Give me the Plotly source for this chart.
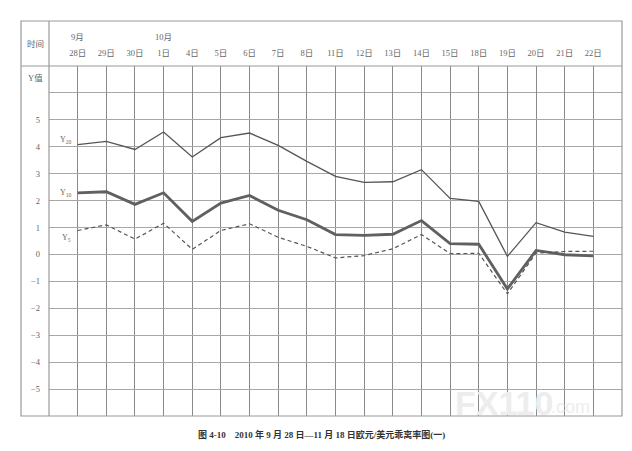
import plotly.graph_objects as go

# dates along the top of the table
months = ["9月", "", "", "10月", "", "", "", "", "", "", "", "", "", "", "", "", "", "", ""]
days = ["28日", "29日", "30日", "1日", "4日", "5日", "6日", "7日", "8日", "11日",
        "12日", "13日", "14日", "15日", "18日", "19日", "20日", "21日", "22日"]

# bias ratio values
y20 = [4.08, 4.20, 3.90, 4.55, 3.62, 4.34, 4.51, 4.05, 3.46, 2.90,
       2.68, 2.70, 3.15, 2.08, 1.97, -0.07, 1.18, 0.83, 0.67]
y10 = [2.29, 2.33, 1.86, 2.29, 1.23, 1.91, 2.19, 1.64, 1.29, 0.74,
       0.71, 0.75, 1.26, 0.40, 0.38, -1.28, 0.15, -0.01, -0.05]
y5 = [0.89, 1.10, 0.57, 1.16, 0.19, 0.89, 1.14, 0.64, 0.30, -0.13,
      -0.04, 0.21, 0.74, 0.03, 0.04, -1.46, 0.05, 0.11, 0.12]

y_ticks = list(range(-5, 6))
y_labels = [str(v).replace("-", "−") for v in y_ticks]

FONT = "Liberation Serif, Noto Sans CJK SC, serif"
GRID = "#9a9a9a"
LINE = "#555555"
TEXT = "#666666"

x = list(range(len(days)))

fig = go.Figure()
fig.add_trace(go.Scatter(x=x, y=y20, mode="lines", line=dict(color=LINE, width=1.3), name="Y20"))
fig.add_trace(go.Scatter(x=x, y=y10, mode="lines", line=dict(color="#606060", width=2.8), name="Y10"))
fig.add_trace(go.Scatter(x=x, y=y5, mode="lines", line=dict(color=LINE, width=1.2, dash="4px,3px"), name="Y5"))

# series labels at the left
for txt, yv in [("Y<sub>20</sub>", 4.24), ("Y<sub>10</sub>", 2.28), ("Y<sub>5</sub>", 0.62)]:
    fig.add_annotation(x=-0.4, y=yv, xref="x", yref="y", text=txt, showarrow=False,
                       xanchor="center", yanchor="middle",
                       font=dict(family=FONT, size=8, color=TEXT))

# month labels above the day labels
for i, m in enumerate(months):
    if m:
        fig.add_annotation(x=i, y=1.083, xref="x", yref="paper", text=m, showarrow=False,
                           xanchor="center", yanchor="middle",
                           font=dict(family=FONT, size=8.5, color=TEXT))

# left column headings
left = -28 / 573
fig.add_annotation(x=left / 2, y=1.063, xref="paper", yref="paper", text="时间", showarrow=False,
                   xanchor="center", yanchor="middle", font=dict(family=FONT, size=8.5, color=TEXT))
fig.add_annotation(x=left / 2, y=6.55, xref="paper", yref="y", text="Y值", showarrow=False,
                   xanchor="center", yanchor="middle", font=dict(family=FONT, size=8.5, color=TEXT))

# table frame
top = 1 + 45 / 350
fig.add_shape(type="rect", xref="paper", yref="paper", x0=left, x1=1, y0=0, y1=top,
              line=dict(color=GRID, width=1.2))
fig.add_shape(type="line", xref="paper", yref="paper", x0=left, x1=1, y0=1, y1=1,
              line=dict(color=GRID, width=1.2))
fig.add_shape(type="line", xref="paper", yref="paper", x0=0, x1=0, y0=0, y1=top,
              line=dict(color=GRID, width=1.2))

# watermark
fig.add_annotation(x=0.705, y=0.037, xref="paper", yref="paper", text="<b>FX110</b>", showarrow=False,
                   xanchor="left", yanchor="middle",
                   font=dict(family="Liberation Sans, sans-serif", size=34, color="#ededed"))
fig.add_annotation(x=0.872, y=0.027, xref="paper", yref="paper", text=".com", showarrow=False,
                   xanchor="left", yanchor="middle",
                   font=dict(family="Liberation Sans, sans-serif", size=18, color="#ededed"))

# caption
fig.add_annotation(x=0.476, y=-0.054, xref="paper", yref="paper",
                   text="<b>图 4-10    2010 年 9 月 28 日—11 月 18 日欧元/美元乖离率图(一)</b>",
                   showarrow=False, xanchor="center", yanchor="middle",
                   font=dict(family=FONT, size=9, color="#333333"))

# page body has an 8px margin, so the margins are shifted by that much
fig.update_layout(
    width=632, height=451,
    margin=dict(l=41, r=18, t=58, b=43),
    paper_bgcolor="white", plot_bgcolor="white",
    showlegend=False,
    xaxis=dict(range=[-1, 19], tickvals=x, ticktext=days, side="top", showgrid=True,
               gridcolor="#8a8a8a", gridwidth=1, zeroline=False, showline=False, ticks="",
               automargin=False, ticklabelstandoff=7,
               tickfont=dict(family=FONT, size=8.5, color=TEXT), fixedrange=True),
    yaxis=dict(range=[-6, 7], tickvals=y_ticks, ticktext=y_labels, showgrid=True,
               gridcolor="#a8a8a8", gridwidth=1, zeroline=False, showline=False, ticks="",
               minor=dict(tickvals=[6], showgrid=True, gridcolor="#a8a8a8", gridwidth=1, ticks=""),
               automargin=False, ticklabelstandoff=8,
               tickfont=dict(family=FONT, size=8.5, color=TEXT), fixedrange=True),
)

fig.write_html("out.html")
